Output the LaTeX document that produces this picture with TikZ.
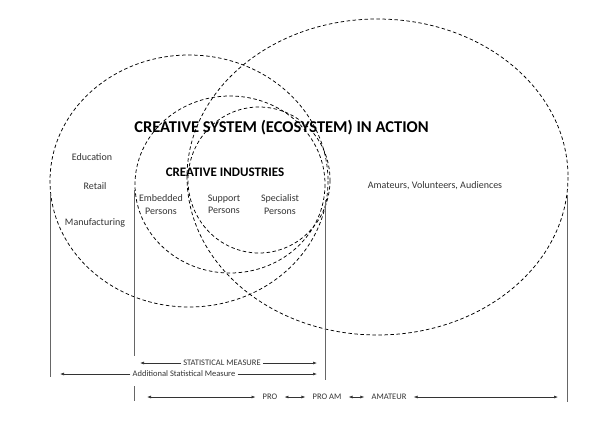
\documentclass[tikz,border=0pt]{standalone}
\usepackage{fontspec}
\setmainfont{Carlito}
\usepackage{tikz}
\usetikzlibrary{arrows.meta, positioning, calc}

\tikzset{
  ring/.style={dash pattern=on 3.5pt off 2.5pt, line width=0.75pt},
  boundary/.style={black!60, line width=0.6pt},
  sector/.style={text=black!80, font=\fontsize{10}{12.5}\selectfont, align=center},
  measure/.style={text=black!80, font=\fontsize{8.5}{10}\selectfont, inner xsep=2pt},
  band/.style={text=black!80, font=\fontsize{8.5}{10}\selectfont, inner xsep=7pt},
  span/.style={<->, black!80, line width=0.6pt},
  >={Latex[length=4pt,width=3pt]}
}

\begin{document}
\begin{tikzpicture}[x=1pt, y=-1pt]
    \useasboundingbox (0,0) rectangle (609,421);

    % circles
    \draw [ring] (377.5,177) ellipse [x radius=190.5, y radius=158];
    \draw [ring] (189,181) ellipse [x radius=139, y radius=126];
    \draw [ring] (230,184.5) ellipse [x radius=95, y radius=88.5];
    \draw [ring] (259,180) ellipse [x radius=71, y radius=73];

    \node (title) at (281.5,128) {\fontsize{16.5}{18}\selectfont\bfseries CREATIVE SYSTEM (ECOSYSTEM) IN ACTION};
    \node (industries) at (225,172) {\fontsize{13}{15}\selectfont\bfseries CREATIVE INDUSTRIES};

    \node [sector] (education) at (92,157) {Education};
    \node [sector] (retail) at (95,186) {Retail};
    \node [sector] (manufacturing) at (95,223) {Manufacturing};
    \node [sector] (embedded) at (161,204.5) {Embedded\\Persons};
    \node [sector] (support) at (224,204.5) {Support\\Persons};
    \node [sector] (specialist) at (280,204.5) {Specialist\\Persons};
    \node [sector] (amateurs) at (435,186) {Amateurs, Volunteers, Audiences};

    % boundaries
    \draw [boundary] (50,195) -- (50,377);
    \draw [boundary] (134,190) -- (134,356);
    \draw [boundary] (134,386) -- (134,401);
    \draw [boundary] (325,200) -- (325,380);
    \draw [boundary] (567,195) -- (567,402);

    % measures
    \coordinate (statL) at (140,363);
    \coordinate (statR) at (317,363);
    \coordinate (addL) at (60,374);
    \coordinate (addR) at (317,374);
    \node [measure] (stat) at (222,363) {STATISTICAL MEASURE};
    \node [measure] (additional) at (184,374) {Additional Statistical Measure};
    \draw [->, black!80, line width=0.6pt] (stat.west) -- (statL);
    \draw [->, black!80, line width=0.6pt] (stat.east) -- (statR);
    \draw [->, black!80, line width=0.6pt] (additional.west) -- (addL);
    \draw [->, black!80, line width=0.6pt] (additional.east) -- (addR);

    \coordinate (proStart) at (147,397);
    \coordinate (amateurEnd) at (558,397);
    \node [band] (pro) at (270,397) {PRO};
    \node [band] (proam) at (327,397) {PRO AM};
    \node [band] (amateur) at (389,397) {AMATEUR};
    \draw [span] (proStart) -- (pro);
    \draw [span] (pro) -- (proam);
    \draw [span] (proam) -- (amateur);
    \draw [span] (amateur) -- (amateurEnd);
\end{tikzpicture}
\end{document}
